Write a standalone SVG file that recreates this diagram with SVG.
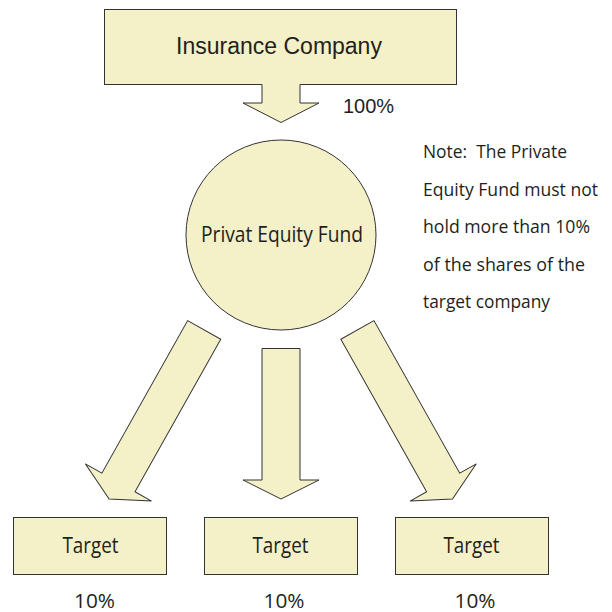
<svg xmlns="http://www.w3.org/2000/svg" width="612" height="612" viewBox="0 0 612 612">
  <style>
    .shape { fill: #f4f0c8; stroke: #333333; stroke-width: 1; stroke-linejoin: miter; }
    .fill { fill: #f4f0c8; stroke: none; }
    .edge { fill: none; stroke: #333333; stroke-width: 1; }
    .sans { font-family: "Liberation Sans", Arial, sans-serif; fill: #231f20; }
    .cond { font-family: "Open Sans", "Noto Sans", sans-serif; fill: #231f20; }
  </style>
  <defs>
    <!-- block arrow pointing down, origin at the middle of its tail -->
    <path id="blockArrow" d="M -19 0 L 19 0 L 19 175 L 38 175 L 0 194 L -38 175 L -19 175 Z"/>
  </defs>

  <rect width="612" height="612" fill="#ffffff"/>

  <g id="insurance-company">
    <rect class="shape" x="104.5" y="9.5" width="352" height="75"/>
    <text class="sans" x="279" y="54" font-size="23" text-anchor="middle">Insurance Company</text>
  </g>

  <g id="connectors">
    <!-- company to fund -->
    <polygon class="fill" points="262,83 300,83 300,103 319,103 281,122.5 243,103 262,103"/>
    <polyline class="edge" points="262,84.5 262,103 243,103 281,122.5 319,103 300,103 300,84.5"/>
    <!-- fund to targets -->
    <use href="#blockArrow" class="shape" transform="translate(204.2 329.9) rotate(29.35)"/>
    <polygon class="shape" points="262,348.5 300,348.5 300,480 319,480 281,499 243,480 262,480"/>
    <use href="#blockArrow" class="shape" transform="translate(357.4 329.9) rotate(-29.35)"/>
    <text class="sans" x="343" y="113" font-size="20">100%</text>
  </g>

  <g id="private-equity-fund">
    <circle class="shape" cx="281" cy="235" r="95"/>
    <text class="cond" x="282" y="242" font-size="21" text-anchor="middle" textLength="162" lengthAdjust="spacingAndGlyphs">Privat Equity Fund</text>
  </g>

  <g id="note" class="cond" font-size="19">
    <text x="423" y="158" textLength="144" lengthAdjust="spacingAndGlyphs" xml:space="preserve">Note:  The Private</text>
    <text x="423" y="195.5" textLength="175" lengthAdjust="spacingAndGlyphs">Equity Fund must not</text>
    <text x="423" y="233" textLength="167" lengthAdjust="spacingAndGlyphs">hold more than 10%</text>
    <text x="423" y="270.5" textLength="162" lengthAdjust="spacingAndGlyphs">of the shares of the</text>
    <text x="423" y="308" textLength="127" lengthAdjust="spacingAndGlyphs">target company</text>
  </g>

  <g id="target-1">
    <rect class="shape" x="13.5" y="517.5" width="153" height="57"/>
    <text class="cond" x="90.5" y="553" font-size="21" text-anchor="middle" textLength="56" lengthAdjust="spacingAndGlyphs">Target</text>
    <text class="cond" x="94.5" y="607.5" font-size="20" text-anchor="middle" textLength="41" lengthAdjust="spacingAndGlyphs">10%</text>
  </g>

  <g id="target-2">
    <rect class="shape" x="204.5" y="517.5" width="153" height="57"/>
    <text class="cond" x="280.5" y="553" font-size="21" text-anchor="middle" textLength="56" lengthAdjust="spacingAndGlyphs">Target</text>
    <text class="cond" x="284" y="607.5" font-size="20" text-anchor="middle" textLength="41" lengthAdjust="spacingAndGlyphs">10%</text>
  </g>

  <g id="target-3">
    <rect class="shape" x="395.5" y="517.5" width="153" height="57"/>
    <text class="cond" x="471.5" y="553" font-size="21" text-anchor="middle" textLength="56" lengthAdjust="spacingAndGlyphs">Target</text>
    <text class="cond" x="475" y="607.5" font-size="20" text-anchor="middle" textLength="41" lengthAdjust="spacingAndGlyphs">10%</text>
  </g>
</svg>
